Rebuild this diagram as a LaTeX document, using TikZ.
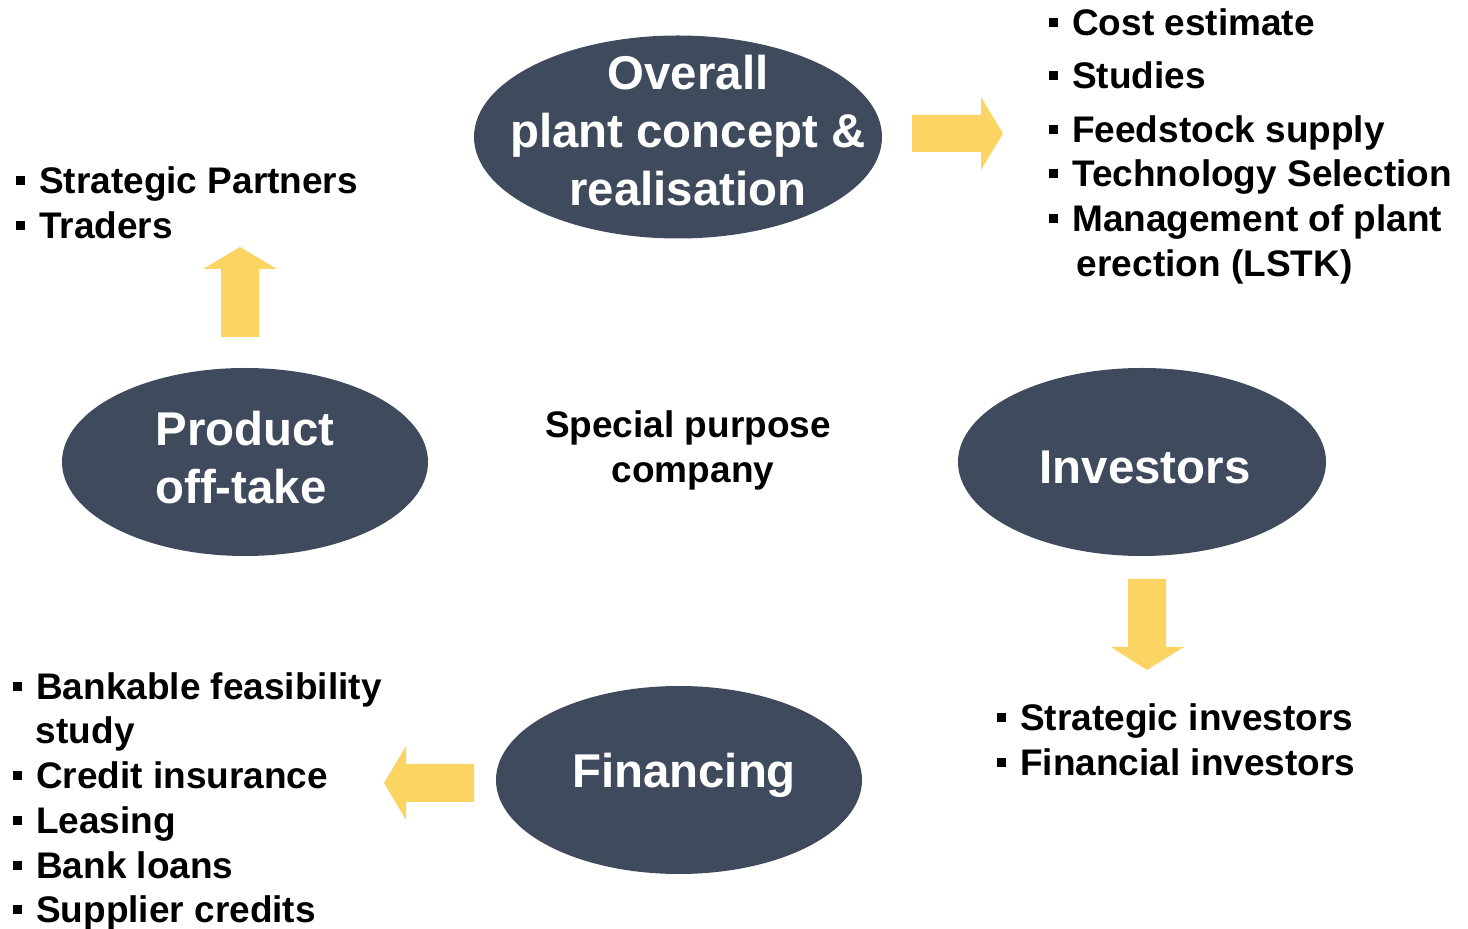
\documentclass[tikz,border=0pt]{standalone}
\usepackage{fontspec}
\setmainfont{Liberation Sans}
\usetikzlibrary{shapes.geometric,positioning}
\definecolor{slate}{HTML}{3F4B5C}
\definecolor{gold}{HTML}{FBD463}
\newcommand{\sqbul}{\rule[4.6pt]{4.4pt}{4.4pt}\hspace{7pt}}

\begin{document}
\begin{tikzpicture}[x=.5pt,y=-.5pt,
  hub/.style={ellipse,fill=slate,inner sep=0pt},
  hubtext/.style={text=white,inner sep=0pt,
    font=\fontsize{23.7}{29}\selectfont\bfseries},
  item/.style={anchor=base west,inner sep=0pt,
    font=\fontsize{18.5}{22.5}\selectfont\bfseries},
  block/.style={fill=gold}]
 \useasboundingbox (0,0) rectangle (1468,929);
 % the four hubs
 \node[hub,minimum width=204pt,minimum height=101.5pt] (plant) at (678,137) {};
 \node[hub,minimum width=183pt,minimum height=94pt] (offtake) at (245,462) {};
 \node[hub,minimum width=184pt,minimum height=94pt] (invest) at (1142,462) {};
 \node[hub,minimum width=183pt,minimum height=94pt] (finance) at (679,780) {};
 \node[hubtext,align=center] (plantlbl) at (688,131) {Overall\\plant concept \&\\realisation};
 \node[hubtext,align=left] (offtakelbl) at (245,458) {Product\\off-take};
 \node[hubtext] (investlbl) at (1145,467) {Investors};
 \node[hubtext] (financelbl) at (684,775) {Financing};
 % centre
 \node[item,anchor=base] (spc1) at (688,438) {Special purpose};
 \node[item,anchor=base] (spc2) at (693,483) {company};
 % block arrows
 \fill[block] (912,115) -- (981,115) -- (981,97) -- (1003,133.5) -- (981,170) -- (981,152) -- (912,152) -- cycle;
 \fill[block] (221,337) -- (221,269) -- (203,269) -- (240,247) -- (277,269) -- (259,269) -- (259,337) -- cycle;
 \fill[block] (474,764) -- (406,764) -- (406,746) -- (384,783) -- (406,820) -- (406,802) -- (474,802) -- cycle;
 \fill[block] (1128,579) -- (1166,579) -- (1166,647) -- (1184,647) -- (1147,670) -- (1111,647) -- (1128,647) -- cycle;
 % lists
 \foreach \t/\y [count=\i] in {Cost estimate/36,Studies/89,Feedstock supply/143,
   Technology Selection/187,Management of plant/232}{
  \node[item] (plan\i) at (1049,\y) {\sqbul\t};
 }
 \node[item] (plan6) at (1076.5,277) {erection (LSTK)};
 \foreach \t/\y [count=\i] in {Strategic Partners/194,Traders/239}{
  \node[item] (take\i) at (16,\y) {\sqbul\t};
 }
 \foreach \t/\y [count=\i] in {Strategic investors/731,Financial investors/776}{
  \node[item] (inv\i) at (997,\y) {\sqbul\t};
 }
 \node[item] (fin1) at (13,700) {\sqbul Bankable feasibility};
 \node[item] (fin2) at (35.5,744) {study};
 \foreach \t/\y [count=\i from 3] in {Credit insurance/789,Leasing/834,Bank loans/879,
   Supplier credits/923}{
  \node[item] (fin\i) at (13,\y) {\sqbul\t};
 }
\end{tikzpicture}
\end{document}
